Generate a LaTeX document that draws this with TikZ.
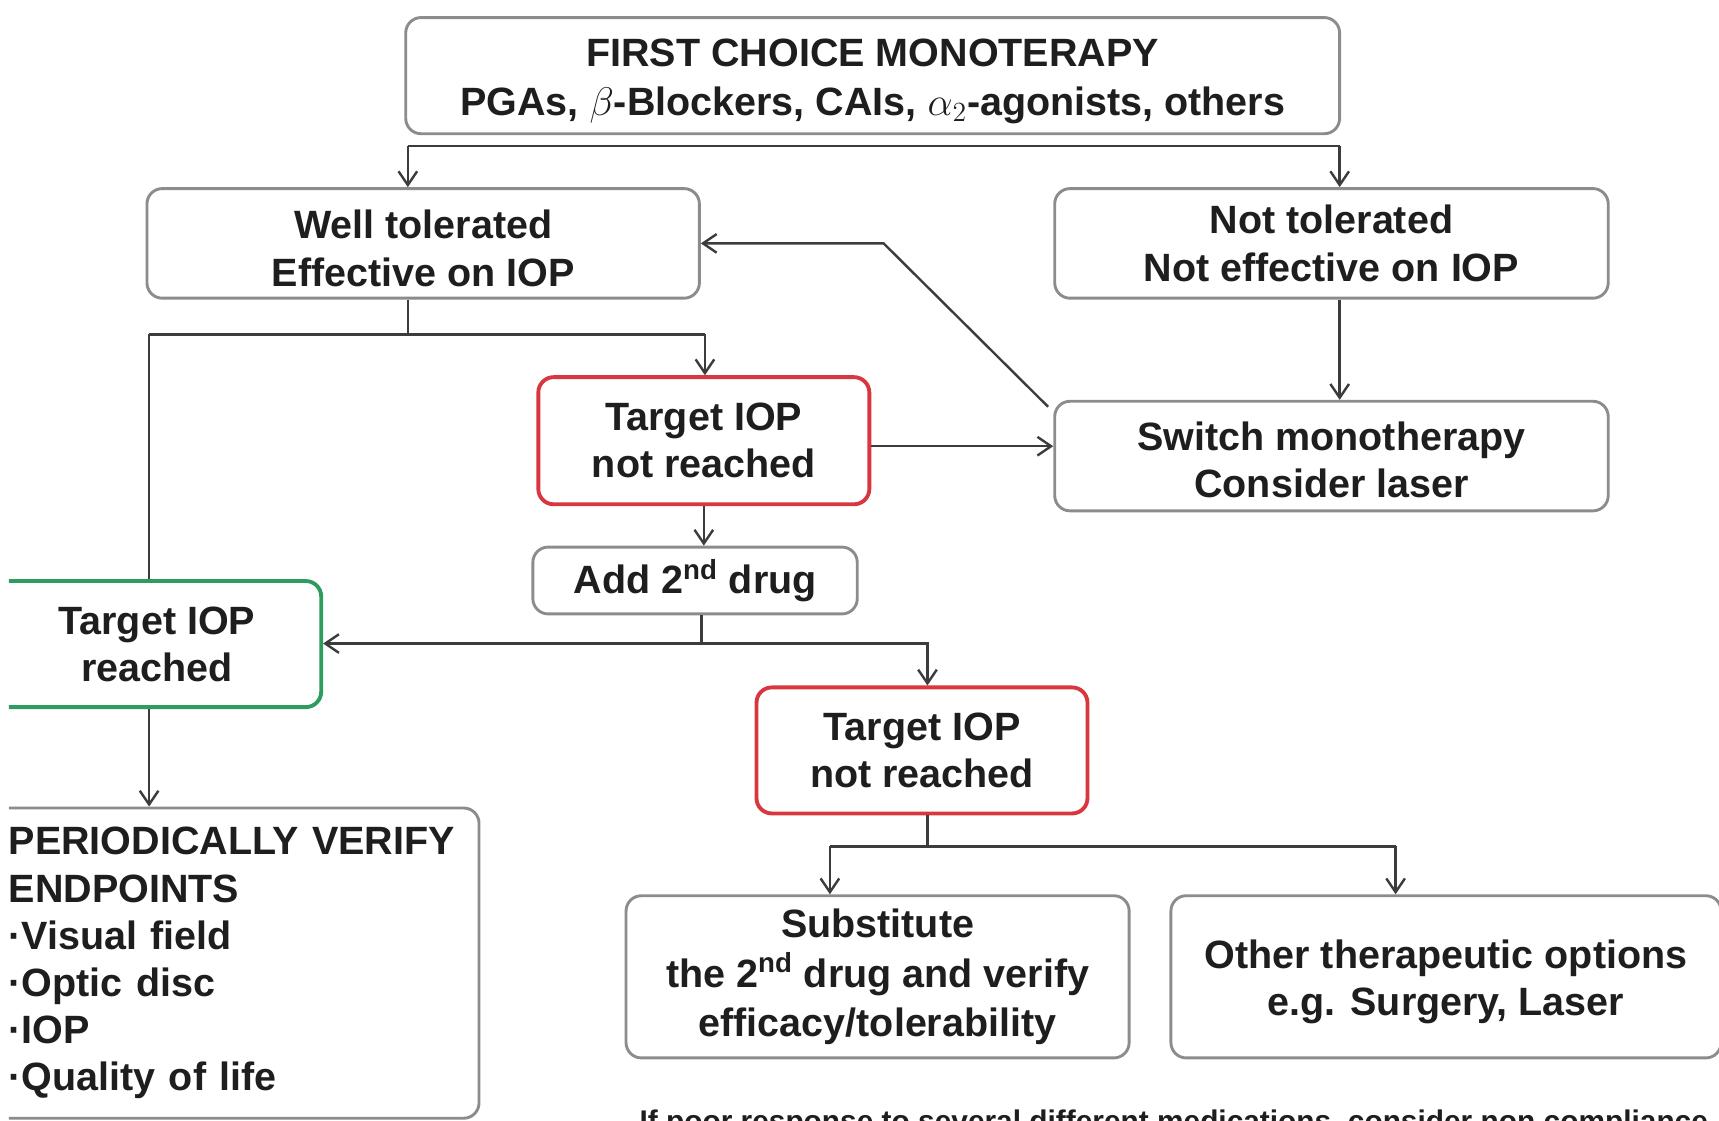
\documentclass[tikz,border=0pt]{standalone}
\usepackage{fontspec}
\setmainfont{Liberation Sans}
\usetikzlibrary{arrows.meta}
\definecolor{boxgray}{HTML}{8C8C8C}
\definecolor{boxred}{HTML}{D8373F}
\definecolor{boxgreen}{HTML}{2E9B5F}
\definecolor{linegray}{HTML}{3C3C3C}
\definecolor{txt}{HTML}{1E1E1E}
\newcommand\boxfont{\fontsize{20.5}{24.5}\selectfont\bfseries}
\newcommand\topfont{\fontsize{20.5}{25.5}\selectfont\bfseries}
\newcommand\subfont{\fontsize{20.5}{25.8}\selectfont\bfseries}
\newcommand\notefont{\fontsize{15.5}{18}\selectfont\bfseries}
\newcommand\upstrut{\rule{0pt}{20pt}}
\newcommand\smallstrut{\rule{0pt}{18.5pt}}
\begin{document}
\begin{tikzpicture}[x=0.02cm,y=-0.02cm,
  box/.style={draw=boxgray, line width=1.5pt, rounded corners=0.28cm, fill=white,
    align=center, inner sep=0pt, font=\boxfont, text=txt},
  redbox/.style={box, draw=boxred, line width=2pt},
  greenbox/.style={box, draw=boxgreen, line width=2pt},
  conn/.style={draw=linegray, line width=1.25pt},
  arr/.style={conn, -{Straight Barb[length=0.25cm,width=0.34cm,line width=1.25pt]}}]
\useasboundingbox (0,0) rectangle (1568,1022);
\begin{scope}
\clip (8,0) rectangle (1568,1022);
% nodes
\node[box, minimum width=17.04cm, minimum height=2.12cm, font=\topfont] (top) at (796,69)
  {\upstrut FIRST CHOICE MONOTERAPY\\PGAs, $\beta$-Blockers, CAIs, $\alpha_2$-agonists, others};
\node[box, minimum width=10.08cm, minimum height=2.0cm] (well) at (386,222)
  {\upstrut Well tolerated\\Effective on IOP};
\node[box, minimum width=10.1cm, minimum height=2.0cm] (nottol) at (1214.5,222)
  {Not tolerated\\Not effective on IOP};
\node[redbox, minimum width=6.04cm, minimum height=2.32cm] (tnr1) at (642,402)
  {Target IOP\\not reached};
\node[box, minimum width=10.1cm, minimum height=2.0cm] (switch) at (1214.5,416)
  {\smallstrut Switch monotherapy\\Consider laser};
\node[box, minimum width=5.92cm, minimum height=1.22cm] (add) at (634,529.5)
  {Add 2\textsuperscript{nd} drug};
\node[greenbox, minimum width=6.0cm, minimum height=2.3cm] (reached) at (143,587.5)
  {Target IOP\\reached};
\node[redbox, minimum width=6.04cm, minimum height=2.3cm] (tnr2) at (841,684.5)
  {Target IOP\\not reached};
\node[box, text width=8.22cm, align=left, inner xsep=0.36cm, minimum height=5.66cm] (per) at (213.5,878.5)
  {PERIODICALLY VERIFY\\ENDPOINTS\\·Visual field\\·Optic disc\\·IOP\\·Quality of life};
\node[box, minimum width=9.18cm, minimum height=2.96cm, font=\subfont] (subst) at (800.5,891)
  {Substitute\\the 2\textsuperscript{nd} drug and verify\\efficacy/tolerability};
\node[box, minimum width=10.04cm, minimum height=2.96cm] (other) at (1319,891)
  {\upstrut Other therapeutic options\\e.g. Surgery, Laser};
\node[anchor=base west, font=\notefont, text=txt, inner sep=0pt] (note) at (583,1032)
  {If poor response to several different medications, consider non compliance};
% junctions
\coordinate (j1) at (372,133);
\coordinate (j2) at (1222,133);
\coordinate (j3) at (372,305);
\coordinate (j4) at (136,305);
\coordinate (j5) at (643,305);
\coordinate (sw) at (956,371);
\coordinate (k) at (806,222);
\coordinate (h1) at (700,407);
\coordinate (j6) at (640,587);
\coordinate (j7) at (846,587);
\coordinate (j8) at (846,772);
\coordinate (j9) at (757,772);
\coordinate (j10) at (1273,772);
% connectors
\draw[conn] (j1) -- (j2);
\draw[arr] (j1) -- (j1 |- well.north);
\draw[arr] (j2) -- (j2 |- nottol.north);
\draw[conn] (well.south -| j3) -- (j3);
\draw[conn] (j4) -- (j5);
\draw[arr] (j5) -- (j5 |- tnr1.north);
\draw[conn] (j4) -- (j4 |- reached.north);
\draw[arr] (reached.south -| j4) -- (j4 |- per.north);
\draw[arr] (nottol.south -| j2) -- (j2 |- switch.north);
\draw[arr] (sw) -- (k) -- (k -| well.east);
\draw[arr] (tnr1.east |- h1) -- (switch.west |- h1);
\draw[arr] (tnr1.south) -- (tnr1.south |- add.north);
\draw[conn] (add.south -| j6) -- (j6);
\draw[arr] (j6) -- (reached.east |- j6);
\draw[arr] (j6) -- (j7) -- (j7 |- tnr2.north);
\draw[conn] (tnr2.south -| j8) -- (j8);
\draw[conn] (j9) -- (j10);
\draw[arr] (j9) -- (j9 |- subst.north);
\draw[arr] (j10) -- (j10 |- other.north);
\end{scope}
\end{tikzpicture}
\end{document}
